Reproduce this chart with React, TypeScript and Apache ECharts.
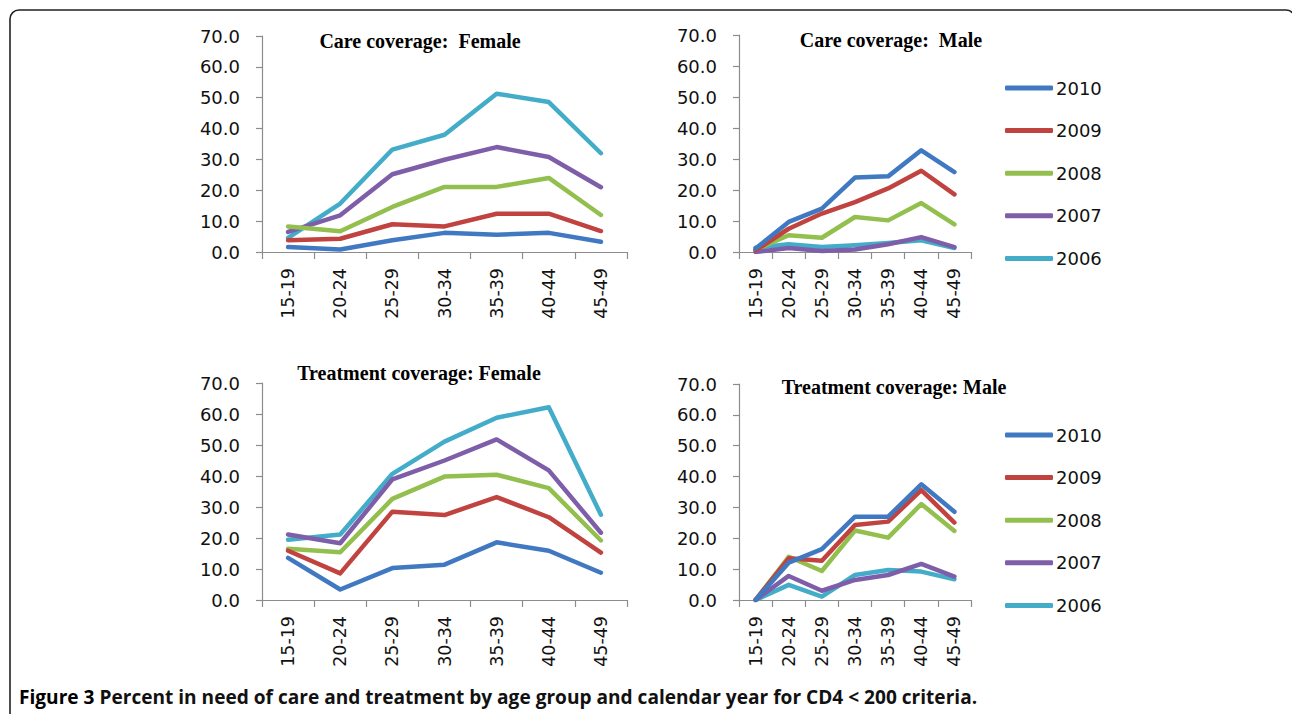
import React, { useEffect, useRef } from 'react';
import * as echarts from 'echarts';

const CATEGORIES = ['15-19', '20-24', '25-29', '30-34', '35-39', '40-44', '45-49'];
const YEARS = ['2010', '2009', '2008', '2007', '2006'];
const COLORS = ['#4079c2', '#c0433f', '#93bf4f', '#7e5ea8', '#43adc9'];

// Care coverage: Female
const careFemale2010 = [1.6, 0.8, 3.8, 6.2, 5.6, 6.2, 3.3];
const careFemale2009 = [3.8, 4.3, 9.0, 8.3, 12.4, 12.4, 6.8];
const careFemale2008 = [8.3, 6.7, 14.6, 21.1, 21.1, 24.0, 12.0];
const careFemale2007 = [6.5, 11.9, 25.2, 29.9, 34.0, 30.8, 21.0];
const careFemale2006 = [4.6, 15.7, 33.2, 38.0, 51.3, 48.6, 32.0];

// Care coverage: Male
const careMale2010 = [1.1, 9.7, 14.0, 24.0, 24.4, 32.8, 25.8];
const careMale2009 = [0.5, 7.5, 12.4, 16.1, 20.5, 26.2, 18.6];
const careMale2008 = [0.8, 5.4, 4.6, 11.3, 10.2, 15.8, 8.9];
const careMale2007 = [0.0, 1.3, 0.3, 0.8, 2.5, 4.8, 1.6];
const careMale2006 = [1.4, 2.5, 1.6, 2.2, 2.9, 3.8, 1.3];

// Treatment coverage: Female
const treatFemale2010 = [13.6, 3.4, 10.3, 11.4, 18.6, 15.9, 8.8];
const treatFemale2009 = [15.9, 8.6, 28.5, 27.4, 33.2, 26.7, 15.3];
const treatFemale2008 = [16.5, 15.4, 32.6, 39.8, 40.4, 36.1, 19.2];
const treatFemale2007 = [21.1, 18.3, 38.9, 45.0, 51.8, 41.8, 21.7];
const treatFemale2006 = [19.4, 21.1, 40.7, 51.1, 58.8, 62.2, 27.5];

// Treatment coverage: Male
const treatMale2010 = [0.0, 12.1, 16.5, 27.0, 27.0, 37.5, 28.6];
const treatMale2009 = [0.0, 13.5, 12.7, 24.3, 25.4, 35.6, 25.1];
const treatMale2008 = [0.0, 14.0, 9.4, 22.5, 20.2, 31.1, 22.4];
const treatMale2007 = [0.0, 7.8, 3.0, 6.5, 8.1, 11.7, 7.6];
const treatMale2006 = [0.0, 4.9, 1.1, 8.1, 9.7, 9.2, 6.7];

const PANEL_TITLES = [
  'Care coverage:  Female',
  'Care coverage:  Male',
  'Treatment coverage: Female',
  'Treatment coverage: Male',
];
const CAPTION_BOLD = 'Figure 3';
const CAPTION_TEXT = 'Percent in need of care and treatment by age group and calendar year for CD4 < 200 criteria.';

const PANEL_DATA = [
  [careFemale2010, careFemale2009, careFemale2008, careFemale2007, careFemale2006],
  [careMale2010, careMale2009, careMale2008, careMale2007, careMale2006],
  [treatFemale2010, treatFemale2009, treatFemale2008, treatFemale2007, treatFemale2006],
  [treatMale2010, treatMale2009, treatMale2008, treatMale2007, treatMale2006],
];

const GRIDS = [
  { left: 262, top: 36, width: 365, height: 216 },
  { left: 739, top: 35, width: 232, height: 217 },
  { left: 262, top: 383, width: 365, height: 217 },
  { left: 739, top: 384, width: 232, height: 216 },
];
const TITLE_POS = [
  [420, 41],
  [891, 40],
  [419, 373],
  [894, 387],
];

const AXIS_COLOR = '#8c8c8c';
const SANS = '"DejaVu Sans", Verdana, sans-serif';

function buildOption() {
  const xAxis = GRIDS.map((_, i) => ({
    type: 'category',
    gridIndex: i,
    data: CATEGORIES,
    boundaryGap: true,
    axisLine: { lineStyle: { color: AXIS_COLOR, width: 1.2 } },
    axisTick: { show: true, length: 7, interval: 0, lineStyle: { color: AXIS_COLOR, width: 1.2 } },
    axisLabel: {
      rotate: 90,
      interval: 0,
      margin: 16,
      color: '#111',
      fontFamily: SANS,
      fontSize: 17.5,
    },
    splitLine: { show: false },
  }));
  const yAxis = GRIDS.map((_, i) => ({
    type: 'value',
    gridIndex: i,
    min: 0,
    max: 70,
    interval: 10,
    axisLine: { show: true, lineStyle: { color: AXIS_COLOR, width: 1.2 } },
    axisTick: { show: true, length: 6, lineStyle: { color: AXIS_COLOR, width: 1.2 } },
    axisLabel: {
      margin: 22,
      color: '#111',
      fontFamily: SANS,
      fontSize: 18,
      formatter: (v: number) => v.toFixed(1),
    },
    splitLine: { show: false },
  }));
  const series: any[] = [];
  PANEL_DATA.forEach((panel, p) => {
    panel.forEach((values, k) => {
      series.push({
        type: 'line',
        name: YEARS[k],
        xAxisIndex: p,
        yAxisIndex: p,
        data: values,
        symbol: 'none',
        showSymbol: false,
        color: COLORS[k],
        z: 10 - k,
        lineStyle: { color: COLORS[k], width: 4.5, cap: 'round', join: 'round' },
        itemStyle: { color: COLORS[k] },
      });
    });
  });
  const legendCommon = {
    orient: 'vertical',
    left: 1000,
    itemWidth: 48,
    itemHeight: 5,
    itemGap: 22.6,
    icon: 'roundRect',
    data: YEARS,
    selectedMode: false,
    textStyle: { fontFamily: SANS, fontSize: 18, color: '#111', lineHeight: 20, padding: [0, 0, 0, -2] },
  };
  const legend = [
    { ...legendCommon, top: 73 },
    { ...legendCommon, top: 420 },
  ];
  const graphic: any[] = [
    {
      type: 'rect',
      shape: { x: 10, y: 10, width: 1285, height: 720, r: 9 },
      style: { fill: 'none', stroke: '#222', lineWidth: 1.6 },
      silent: true,
    },
    ...PANEL_TITLES.map((t, i) => ({
      type: 'text',
      x: TITLE_POS[i][0],
      y: TITLE_POS[i][1],
      style: {
        text: t,
        fontFamily: '"Liberation Serif", "Times New Roman", serif',
        fontWeight: 'bold',
        fontSize: 20,
        fill: '#000',
        align: 'center',
        verticalAlign: 'middle',
      },
    })),
    {
      type: 'text',
      x: 19,
      y: 696,
      scaleX: 0.955,
      style: {
        text: '{b|' + CAPTION_BOLD + '} ' + CAPTION_TEXT,
        fontFamily: '"Open Sans", sans-serif',
        fontSize: 20,
        fontWeight: 'bold',
        fill: '#111',
        verticalAlign: 'middle',
        rich: {
          b: {
            fontFamily: '"Open Sans", sans-serif',
            fontSize: 20,
            fontWeight: 'bold',
            fill: '#000',
          },
        },
      },
    },
  ];
  return {
    animation: false,
    backgroundColor: '#ffffff',
    grid: GRIDS.map((g) => ({ ...g, containLabel: false })),
    xAxis,
    yAxis,
    legend,
    series,
    graphic,
  };
}

export default function App() {
  const ref = useRef<HTMLDivElement>(null);
  useEffect(() => {
    document.body.style.margin = '0';
    const chart = echarts.init(ref.current!, null, { renderer: 'svg' });
    chart.setOption(buildOption() as any);
    return () => chart.dispose();
  }, []);
  return <div ref={ref} style={{ width: 1292, height: 714, background: '#fff' }} />;
}
